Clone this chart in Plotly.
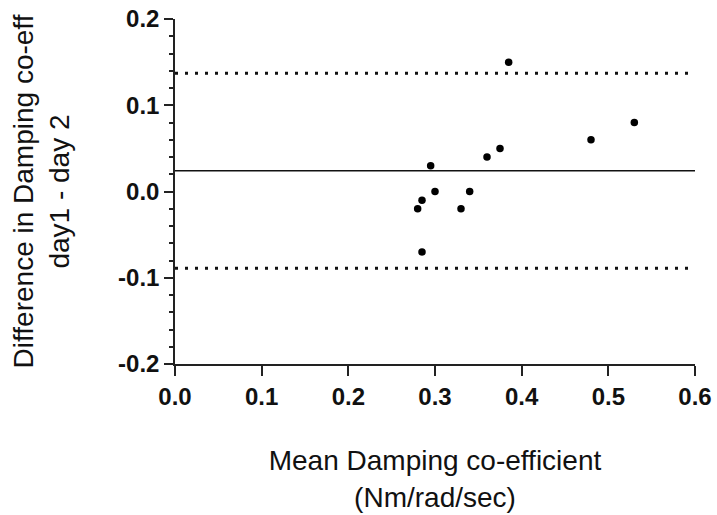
import plotly.graph_objects as go

# Bland-Altman: mean of the two days vs. difference (day1 - day2)
mean_damping = [0.28, 0.285, 0.285, 0.295, 0.30, 0.33, 0.34, 0.36, 0.375, 0.385, 0.48, 0.53]
diff_damping = [-0.02, -0.01, -0.07, 0.03, 0.0, -0.02, 0.0, 0.04, 0.05, 0.15, 0.06, 0.08]

bias = 0.024
upper_loa = 0.137
lower_loa = -0.089

x_span = [0.0, 0.6]
x_ticks = [0.0, 0.1, 0.2, 0.3, 0.4, 0.5, 0.6]
y_ticks = [-0.2, -0.1, 0.0, 0.1, 0.2]

y_title = "Difference in Damping co-eff<br>day1 - day 2"
x_title = "Mean Damping co-efficient<br>(Nm/rad/sec)"

FONT = "Arial, 'Liberation Sans', sans-serif"
INK = "#111111"
AXIS = "#222222"

fig = go.Figure()

# limits of agreement (dotted) and bias (solid)
for level in (upper_loa, lower_loa):
    fig.add_trace(go.Scatter(
        x=x_span, y=[level, level], mode="lines",
        line=dict(color=INK, width=3, dash="3px,7px"),
        hoverinfo="skip", showlegend=False))
fig.add_trace(go.Scatter(
    x=x_span, y=[bias, bias], mode="lines",
    line=dict(color=INK, width=1.5),
    hoverinfo="skip", showlegend=False))

fig.add_trace(go.Scatter(
    x=mean_damping, y=diff_damping, mode="markers",
    marker=dict(color="black", size=7.5, symbol="circle"),
    showlegend=False))

fig.update_layout(
    width=717, height=515,
    margin=dict(l=175, r=22, t=19, b=151),
    paper_bgcolor="white", plot_bgcolor="white",
    font=dict(family=FONT, color=INK),
)

fig.update_xaxes(
    range=x_span, tickvals=x_ticks, ticktext=[f"{v:.1f}" for v in x_ticks],
    tickfont=dict(family=FONT, size=24, color=INK, weight="bold"),
    showgrid=False, zeroline=False,
    showline=True, linecolor=AXIS, linewidth=1.5,
    ticks="outside", ticklen=10, tickwidth=1.5, tickcolor=AXIS,
    title=dict(text=x_title, font=dict(family=FONT, size=28, color=INK), standoff=42),
    automargin=False,
)

fig.update_yaxes(
    range=[-0.2, 0.2], tickvals=y_ticks, ticktext=[f"{v:.1f}" for v in y_ticks],
    tickfont=dict(family=FONT, size=24, color=INK, weight="bold"),
    showgrid=False, zeroline=False,
    showline=True, linecolor=AXIS, linewidth=1.5,
    ticks="outside", ticklen=9, tickwidth=1.5, tickcolor=AXIS,
    minor=dict(dtick=0.02, ticks="outside", ticklen=4, tickwidth=1.5, tickcolor=AXIS),
    title=dict(text=y_title, font=dict(family=FONT, size=28, color=INK), standoff=40),
    automargin=False,
)

fig.write_html("out.html")
